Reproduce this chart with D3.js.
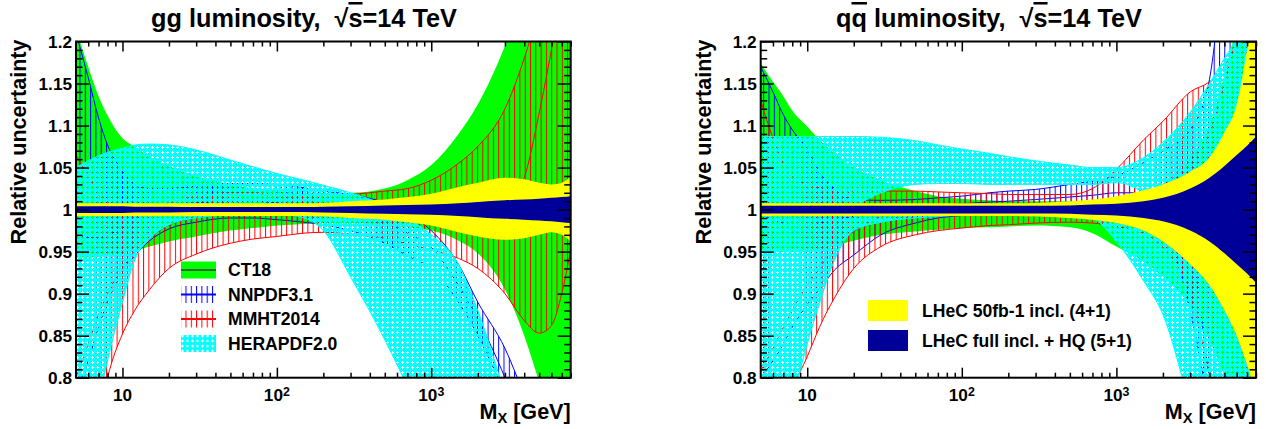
<!DOCTYPE html>
<html>
<head>
<meta charset="utf-8">
<script src="https://cdn.jsdelivr.net/npm/d3@7"></script>
<style>
body { margin: 0; background: #fff; }
text { font-family: "Liberation Sans", Arial, Helvetica, sans-serif; font-weight: bold; fill: #000; white-space: pre; }
</style>
</head>
<body>
<svg id="chart" width="1266" height="429"></svg>
<script>
// mass points (GeV) shared by every band
var mass = [5, 6, 7, 8, 10, 12, 15, 20, 30, 50, 70, 100, 150, 200, 300, 500, 700, 1000, 1500, 2000, 3000, 4000, 5000, 6000, 7000, 8000];

// ---- gg luminosity ----
var ggCT18Up = [1.215, 1.17, 1.135, 1.112, 1.085, 1.075, 1.063, 1.052, 1.04, 1.03, 1.025, 1.022, 1.02, 1.02, 1.02, 1.025, 1.035, 1.053, 1.09, 1.125, 1.195, 1.26, 1.32, 1.38, 1.43, 1.48];
var ggCT18Lo = [0.943, 0.943, 0.944, 0.945, 0.948, 0.951, 0.956, 0.962, 0.968, 0.975, 0.978, 0.981, 0.983, 0.984, 0.984, 0.982, 0.979, 0.975, 0.963, 0.948, 0.905, 0.85, 0.795, 0.75, 0.7, 0.65];
var ggNNUp   = [1.21, 1.157, 1.109, 1.077, 1.046, 1.03, 1.025, 1.025, 1.028, 1.031, 1.031, 1.03, 1.026, 1.022, 1.018, 1.008, 0.995, 0.975, 0.935, 0.89, 0.835, 0.78, 0.74, 0.7, 0.67, 0.64];
var ggNNMid  = [0.97, 0.967, 0.966, 0.97, 0.978, 0.99, 0.998, 1.004, 1.008, 1.01, 1.01, 1.008, 1.005, 1.003, 0.998, 0.985, 0.972, 0.955, 0.91, 0.87, 0.8, 0.74, 0.7, 0.66, 0.63, 0.6];
var ggNNLo   = [0.78, 0.82, 0.86, 0.89, 0.925, 0.945, 0.963, 0.977, 0.985, 0.99, 0.99, 0.988, 0.985, 0.982, 0.975, 0.96, 0.945, 0.93, 0.89, 0.85, 0.78, 0.72, 0.67, 0.63, 0.6, 0.57];
var ggMMUp   = [1.065, 1.04, 1.022, 1.01, 1.0, 0.999, 1.002, 1.008, 1.016, 1.02, 1.02, 1.018, 1.017, 1.017, 1.018, 1.022, 1.025, 1.035, 1.055, 1.075, 1.12, 1.18, 1.24, 1.3, 1.36, 1.42];
var ggMMMid  = [0.8, 0.84, 0.875, 0.9, 0.93, 0.95, 0.966, 0.982, 0.99, 0.996, 0.998, 1.0, 1.0, 1.0, 1.0, 1.0, 1.0, 1.0, 1.0, 1.0, 1.005, 1.038, 1.115, 1.19, 1.26, 1.33];
var ggMMLo   = [0.6, 0.68, 0.75, 0.8, 0.852, 0.88, 0.905, 0.93, 0.947, 0.96, 0.965, 0.968, 0.972, 0.973, 0.971, 0.966, 0.959, 0.952, 0.942, 0.93, 0.9, 0.868, 0.853, 0.862, 0.9, 0.952];
var ggHERAUp = [1.05, 1.058, 1.064, 1.068, 1.073, 1.077, 1.078, 1.077, 1.071, 1.059, 1.051, 1.043, 1.035, 1.029, 1.02, 1.005, 0.99, 0.97, 0.935, 0.88, 0.78, 0.7, 0.62, 0.55, 0.5, 0.45];
var ggHERALo = [0.62, 0.7, 0.77, 0.82, 0.89, 0.94, 0.965, 0.982, 0.99, 0.994, 0.995, 0.995, 0.99, 0.975, 0.92, 0.845, 0.79, 0.73, 0.65, 0.58, 0.5, 0.45, 0.4, 0.35, 0.3, 0.25];
var ggLHeCUp = [1.0075, 1.0075, 1.0075, 1.0075, 1.0075, 1.0075, 1.0075, 1.0075, 1.0075, 1.0075, 1.0075, 1.0075, 1.0075, 1.008, 1.01, 1.012, 1.015, 1.019, 1.027, 1.032, 1.038, 1.036, 1.032, 1.03, 1.032, 1.039];
var ggLHeCLo = [0.9925, 0.9925, 0.9925, 0.9925, 0.9925, 0.9925, 0.9925, 0.9925, 0.9925, 0.9925, 0.9925, 0.9925, 0.9925, 0.992, 0.99, 0.988, 0.985, 0.981, 0.973, 0.968, 0.964, 0.966, 0.97, 0.973, 0.97, 0.962];
var ggHQUp   = [1.004, 1.004, 1.004, 1.004, 1.004, 1.0035, 1.0035, 1.0035, 1.003, 1.003, 1.003, 1.003, 1.003, 1.0035, 1.004, 1.005, 1.0055, 1.006, 1.0075, 1.009, 1.011, 1.012, 1.013, 1.014, 1.015, 1.016];
var ggHQLo   = [0.996, 0.996, 0.996, 0.996, 0.996, 0.9965, 0.9965, 0.9965, 0.997, 0.997, 0.997, 0.997, 0.997, 0.9965, 0.996, 0.995, 0.9945, 0.994, 0.9925, 0.991, 0.989, 0.988, 0.987, 0.986, 0.985, 0.984];

// ---- qqbar luminosity ----
var qqCT18Up = [1.174, 1.152, 1.135, 1.118, 1.099, 1.083, 1.067, 1.05, 1.035, 1.022, 1.016, 1.013, 1.011, 1.01, 1.01, 1.01, 1.01, 1.012, 1.02, 1.03, 1.06, 1.1, 1.16, 1.22, 1.28, 1.34];
var qqCT18Lo = [0.95, 0.95, 0.95, 0.95, 0.95, 0.952, 0.957, 0.963, 0.97, 0.974, 0.976, 0.978, 0.979, 0.98, 0.981, 0.979, 0.972, 0.956, 0.938, 0.92, 0.885, 0.845, 0.803, 0.765, 0.73, 0.7];
var qqNNUp   = [1.17, 1.14, 1.113, 1.095, 1.072, 1.045, 1.025, 1.012, 1.011, 1.012, 1.014, 1.016, 1.02, 1.022, 1.024, 1.03, 1.034, 1.04, 1.056, 1.07, 1.095, 1.155, 1.3, 1.4, 1.5, 1.6];
var qqNNMid  = [0.994, 0.988, 0.984, 0.982, 0.982, 0.984, 0.988, 0.992, 0.998, 1.003, 1.005, 1.007, 1.009, 1.01, 1.012, 1.015, 1.017, 1.02, 1.02, 1.015, 0.96, 0.8, 0.7, 0.6, 0.5, 0.4];
var qqNNLo   = [0.8, 0.82, 0.84, 0.86, 0.887, 0.905, 0.928, 0.946, 0.97, 0.984, 0.99, 0.993, 0.995, 0.996, 0.996, 0.995, 0.993, 0.99, 0.985, 0.975, 0.88, 0.76, 0.65, 0.55, 0.45, 0.35];
var qqMMUp   = [1.13, 1.085, 1.055, 1.04, 1.03, 1.026, 1.023, 1.022, 1.022, 1.022, 1.021, 1.02, 1.019, 1.018, 1.018, 1.018, 1.025, 1.048, 1.083, 1.105, 1.14, 1.152, 1.17, 1.2, 1.23, 1.26];
var qqMMMid  = [0.808, 0.835, 0.86, 0.88, 0.91, 0.93, 0.955, 0.974, 0.992, 1.0, 1.001, 1.001, 1.001, 1.001, 1.001, 1.002, 1.005, 1.01, 1.018, 1.025, 1.05, 1.09, 1.15, 1.21, 1.27, 1.33];
var qqMMLo   = [0.65, 0.7, 0.75, 0.785, 0.825, 0.86, 0.895, 0.93, 0.956, 0.97, 0.975, 0.978, 0.981, 0.982, 0.984, 0.985, 0.984, 0.98, 0.972, 0.955, 0.9, 0.8, 0.7, 0.6, 0.5, 0.4];
var qqHERAUp = [1.087, 1.087, 1.087, 1.087, 1.087, 1.087, 1.087, 1.087, 1.086, 1.082, 1.077, 1.072, 1.067, 1.063, 1.058, 1.053, 1.05, 1.05, 1.062, 1.08, 1.116, 1.15, 1.18, 1.205, 1.24, 1.28];
var qqHERALo = [0.6, 0.66, 0.72, 0.77, 0.84, 0.888, 0.94, 0.975, 0.985, 0.99, 0.992, 0.993, 0.993, 0.993, 0.993, 0.995, 0.99, 0.962, 0.915, 0.875, 0.765, 0.68, 0.6, 0.5, 0.4, 0.3];
// part of the qqbar HERAPDF band left open (upper edge of the gap)
var qqHERAGap = [1.0, 1.0, 1.0, 1.0, 1.0, 1.0, 1.0, 1.005, 1.02, 1.03, 1.031, 1.031, 1.03, 1.03, 1.03, 1.03, 1.03, 1.032, 1.02, 1.0, 1.0, 1.0, 1.0, 1.0, 1.0, 1.0];
var qqLHeCUp = [1.0075, 1.0075, 1.0075, 1.0075, 1.0075, 1.0075, 1.0075, 1.0075, 1.0075, 1.0075, 1.0075, 1.0075, 1.0075, 1.0075, 1.008, 1.01, 1.012, 1.016, 1.023, 1.03, 1.045, 1.062, 1.092, 1.125, 1.19, 1.25];
var qqLHeCLo = [0.9925, 0.9925, 0.9925, 0.9925, 0.9925, 0.9925, 0.9925, 0.9925, 0.9925, 0.9925, 0.9925, 0.9925, 0.9925, 0.9925, 0.992, 0.99, 0.988, 0.984, 0.975, 0.962, 0.935, 0.91, 0.88, 0.85, 0.815, 0.78];
var qqHQUp   = [1.0045, 1.0045, 1.0045, 1.0045, 1.0045, 1.0045, 1.0045, 1.0045, 1.0045, 1.0045, 1.0045, 1.0045, 1.0045, 1.0045, 1.0045, 1.005, 1.006, 1.007, 1.01, 1.014, 1.025, 1.038, 1.052, 1.065, 1.076, 1.087];
var qqHQLo   = [0.9955, 0.9955, 0.9955, 0.9955, 0.9955, 0.9955, 0.9955, 0.9955, 0.9955, 0.9955, 0.9955, 0.9955, 0.9955, 0.9955, 0.9955, 0.995, 0.994, 0.993, 0.99, 0.986, 0.975, 0.962, 0.948, 0.935, 0.924, 0.913];

// axis ticks / labels
var yMajor = [0.8, 0.85, 0.9, 0.95, 1.0, 1.05, 1.1, 1.15, 1.2];
var yLabels = ["0.8", "0.85", "0.9", "0.95", "1", "1.05", "1.1", "1.15", "1.2"];
var xMajor = [10, 100, 1000];
var xLabelBase = ["10", "10", "10"];
var xLabelExp = ["", "2", "3"];
var xMinor = [6, 7, 8, 9, 20, 30, 40, 50, 60, 70, 80, 90, 200, 300, 400, 500, 600, 700, 800, 900, 2000, 3000, 4000, 5000, 6000, 7000, 8000];

var leftLegend = ["CT18", "NNPDF3.1", "MMHT2014", "HERAPDF2.0"];
var rightLegend = ["LHeC 50fb-1 incl. (4+1)", "LHeC full incl. + HQ (5+1)"];

var svg = d3.select("#chart");
var defs = svg.append("defs");

// scale a text's font so that it spans the width seen in the reference
function fitSize(str, size, target) {
    var t = svg.append("text").style("font-size", size + "px").text(str);
    var w = t.node().getComputedTextLength();
    t.remove();
    return size * target / w;
}
var tickSize = fitSize("0.95", 17, 33.5);
var legSize = fitSize("NNPDF3.1", 18, 85);
var axisSize = fitSize("Relative uncertainty", 21, 205);
var titleSize = fitSize("gg luminosity,  \u221As=14 TeV", 25, 306);

function hatch(id, color) {
    var p = defs.append("pattern").attr("id", id).attr("patternUnits", "userSpaceOnUse")
        .attr("width", 5.3).attr("height", 20);
    p.append("line").attr("x1", 0.5).attr("x2", 0.5).attr("y1", 0).attr("y2", 20)
        .attr("stroke", color).attr("stroke-width", 1);
}
hatch("hatchBlue", "#0000ff");
hatch("hatchRed", "#ff0000");

var cp = defs.append("pattern").attr("id", "heraPat").attr("patternUnits", "userSpaceOnUse")
    .attr("width", 5).attr("height", 5);
cp.append("path").attr("fill", "#00ffff").attr("fill-rule", "evenodd")
    .attr("d", "M0,0H5V5H0Z M2,1H3V2H4V3H3V4H2V3H1V2H2Z");

var Y0 = 41.5, Y1 = 377.7;

function drawPanel(p, idx) {
    var x = d3.scaleLog().domain([5, 8000]).range([p.x0, p.x1]);
    var y = d3.scaleLinear().domain([0.8, 1.2]).range([Y1, Y0]);

    defs.append("clipPath").attr("id", "clip" + idx).append("rect")
        .attr("x", p.x0).attr("y", Y0).attr("width", p.x1 - p.x0).attr("height", Y1 - Y0);
    var g = svg.append("g").attr("clip-path", "url(#clip" + idx + ")");

    function area(up, lo) {
        return d3.area().x(function(d, i) { return x(mass[i]); })
            .y0(function(d, i) { return y(lo[i]); })
            .y1(function(d, i) { return y(up[i]); })
            .curve(d3.curveMonotoneX)(mass);
    }
    function line(v) {
        return d3.line().x(function(d, i) { return x(mass[i]); })
            .y(function(d, i) { return y(v[i]); })
            .curve(d3.curveMonotoneX)(mass);
    }

    g.append("path").attr("d", area(p.ct.up, p.ct.lo)).attr("fill", "#00ff00");

    g.append("path").attr("d", area(p.nn.up, p.nn.lo)).attr("fill", "url(#hatchBlue)");
    [p.nn.up, p.nn.mid, p.nn.lo].forEach(function(v) {
        g.append("path").attr("d", line(v)).attr("fill", "none").attr("stroke", "#0000ff").attr("stroke-width", 1);
    });

    g.append("path").attr("d", area(p.mm.up, p.mm.lo)).attr("fill", "url(#hatchRed)");
    [p.mm.up, p.mm.mid, p.mm.lo].forEach(function(v) {
        g.append("path").attr("d", line(v)).attr("fill", "none").attr("stroke", "#ff0000").attr("stroke-width", 1);
    });

    var heLines = [p.he.up, p.he.lo];
    if (p.he.gap) {
        g.append("path").attr("d", area(p.he.up, p.he.gap)).attr("fill", "url(#heraPat)");
        g.append("path").attr("d", area(p.lh.lo, p.he.lo)).attr("fill", "url(#heraPat)");
        heLines.push(p.he.gap);
    } else {
        g.append("path").attr("d", area(p.he.up, p.he.lo)).attr("fill", "url(#heraPat)");
    }
    heLines.forEach(function(v) {
        g.append("path").attr("d", line(v)).attr("fill", "none").attr("stroke", "#00ffff").attr("stroke-width", 1);
    });

    g.append("path").attr("d", area(p.lh.up, p.lh.lo)).attr("fill", "#ffff00");
    g.append("path").attr("d", area(p.hq.up, p.hq.lo)).attr("fill", "#000099");

    // ticks, all pointing into the frame
    var ax = svg.append("g");
    var yMinor = d3.range(0.81, 1.2, 0.01).filter(function(v) { return Math.abs(v * 20 - Math.round(v * 20)) > 0.01; });
    ax.append("g").attr("transform", "translate(" + p.x0 + ",0)").call(d3.axisLeft(y).tickValues(yMajor).tickSize(-13).tickSizeOuter(0).tickFormat(""));
    ax.append("g").attr("transform", "translate(" + p.x0 + ",0)").call(d3.axisLeft(y).tickValues(yMinor).tickSize(-6.5).tickSizeOuter(0).tickFormat(""));
    ax.append("g").attr("transform", "translate(" + p.x1 + ",0)").call(d3.axisRight(y).tickValues(yMajor).tickSize(-13).tickSizeOuter(0).tickFormat(""));
    ax.append("g").attr("transform", "translate(" + p.x1 + ",0)").call(d3.axisRight(y).tickValues(yMinor).tickSize(-6.5).tickSizeOuter(0).tickFormat(""));
    ax.append("g").attr("transform", "translate(0," + Y1 + ")").call(d3.axisBottom(x).tickValues(xMajor).tickSize(-10).tickSizeOuter(0).tickFormat(""));
    ax.append("g").attr("transform", "translate(0," + Y1 + ")").call(d3.axisBottom(x).tickValues(xMinor).tickSize(-5).tickSizeOuter(0).tickFormat(""));
    ax.append("g").attr("transform", "translate(0," + Y0 + ")").call(d3.axisTop(x).tickValues(xMajor).tickSize(-10).tickSizeOuter(0).tickFormat(""));
    ax.append("g").attr("transform", "translate(0," + Y0 + ")").call(d3.axisTop(x).tickValues(xMinor).tickSize(-5).tickSizeOuter(0).tickFormat(""));
    ax.selectAll(".domain").remove();
    ax.selectAll("line").attr("stroke", "#000").attr("stroke-width", 1.5);

    svg.append("rect").attr("x", p.x0).attr("y", Y0).attr("width", p.x1 - p.x0).attr("height", Y1 - Y0)
        .attr("fill", "none").attr("stroke", "#000").attr("stroke-width", 2);

    // tick labels
    svg.append("g").selectAll("text").data(yMajor).enter().append("text")
        .attr("x", p.x0 - 4).attr("y", function(d) { return y(d) + tickSize * 0.36; })
        .attr("text-anchor", "end").style("font-size", tickSize + "px")
        .text(function(d, i) { return yLabels[i]; });
    var xl = svg.append("g").selectAll("text").data(xMajor).enter().append("text")
        .attr("x", function(d) { return x(d); }).attr("y", 401)
        .attr("text-anchor", "middle").style("font-size", tickSize + "px");
    xl.append("tspan").text(function(d, i) { return xLabelBase[i]; });
    xl.append("tspan").attr("dy", "-0.42em").style("font-size", "0.72em").text(function(d, i) { return xLabelExp[i]; });

    // axis titles
    svg.append("text").attr("transform", "translate(" + (p.x0 - 50) + "," + (Y0 - 2) + ") rotate(-90)")
        .attr("text-anchor", "end").style("font-size", axisSize + "px").text("Relative uncertainty");
    var xt = svg.append("text").attr("x", p.x1).attr("y", 419).attr("text-anchor", "end").style("font-size", axisSize + "px");
    xt.append("tspan").text("M");
    xt.append("tspan").attr("dy", "0.25em").style("font-size", "0.68em").text("X");
    xt.append("tspan").attr("dy", "-0.17em").text(" [GeV]");

    // title
    var t = svg.append("text").attr("x", p.tx).attr("y", 27).attr("text-anchor", "middle").style("font-size", titleSize + "px");
    t.append("tspan").text(p.t1);
    if (p.t2) t.append("tspan").style("text-decoration", "overline").text(p.t2);
    t.append("tspan").text(" luminosity,  \u221A");
    t.append("tspan").style("text-decoration", "overline").text("s");
    t.append("tspan").text("=14 TeV");

    return { x: x, y: y };
}

drawPanel({ x0: 76, x1: 570.7, tx: 304, t1: "gg", t2: "",
    ct: { up: ggCT18Up, lo: ggCT18Lo }, nn: { up: ggNNUp, mid: ggNNMid, lo: ggNNLo },
    mm: { up: ggMMUp, mid: ggMMMid, lo: ggMMLo }, he: { up: ggHERAUp, lo: ggHERALo },
    lh: { up: ggLHeCUp, lo: ggLHeCLo }, hq: { up: ggHQUp, lo: ggHQLo } }, 0);
drawPanel({ x0: 760.7, x1: 1256, tx: 989, t1: "q", t2: "q",
    ct: { up: qqCT18Up, lo: qqCT18Lo }, nn: { up: qqNNUp, mid: qqNNMid, lo: qqNNLo },
    mm: { up: qqMMUp, mid: qqMMMid, lo: qqMMLo }, he: { up: qqHERAUp, lo: qqHERALo, gap: qqHERAGap },
    lh: { up: qqLHeCUp, lo: qqLHeCLo }, hq: { up: qqHQUp, lo: qqHQLo } }, 1);

// legend, gg panel
var legFills = ["#00ff00", "url(#hatchBlue)", "url(#hatchRed)", "url(#heraPat)"];
var legLines = ["#2a6a2a", "#0000ff", "#ff0000", "#00ffff"];
var lg = svg.append("g").selectAll("g").data(leftLegend).enter().append("g")
    .attr("transform", function(d, i) { return "translate(0," + (270 + i * 24.5) + ")"; });
lg.append("rect").attr("x", 181).attr("y", -8.5).attr("width", 35).attr("height", 17)
    .attr("fill", function(d, i) { return legFills[i]; });
lg.append("line").attr("x1", 181).attr("x2", 216).attr("y1", 0).attr("y2", 0)
    .attr("stroke", function(d, i) { return legLines[i]; }).attr("stroke-width", 2);
lg.append("text").attr("x", 228).attr("y", legSize * 0.36).style("font-size", legSize + "px").text(function(d) { return d; });

// legend, qqbar panel
var rFills = ["#ffff00", "#000099"];
var rg = svg.append("g").selectAll("g").data(rightLegend).enter().append("g")
    .attr("transform", function(d, i) { return "translate(0," + (310.5 + i * 30) + ")"; });
rg.append("rect").attr("x", 868).attr("y", -10.5).attr("width", 40).attr("height", 21)
    .attr("fill", function(d, i) { return rFills[i]; });
rg.append("text").attr("x", 922).attr("y", legSize * 0.36).style("font-size", legSize + "px").text(function(d) { return d; });
</script>
</body>
</html>
